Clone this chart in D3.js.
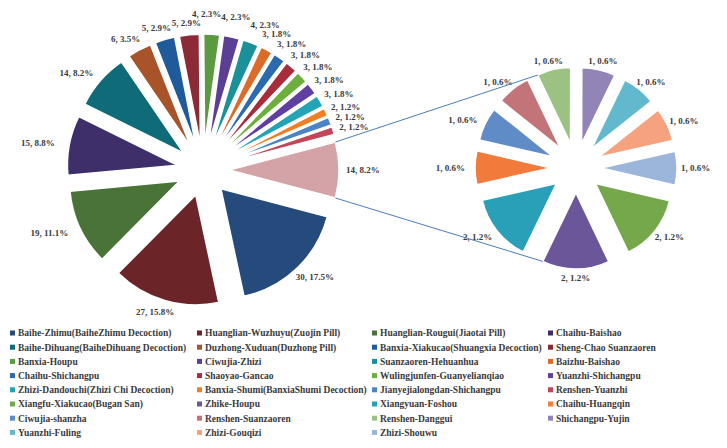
<!DOCTYPE html>
<html>
<head>
<meta charset="utf-8">
<script src="https://cdn.jsdelivr.net/npm/d3@7"></script>
<style>
  body { margin: 0; background: #fff; }
</style>
</head>
<body>
<div id="chart"></div>
<script>
// Herb pair counts - first 20 go in the main pie, the rest are grouped into the secondary pie
const pairNames = [
  'Baihe-Zhimu(BaiheZhimu Decoction)', 'Huanglian-Wuzhuyu(Zuojin Pill)', 'Huanglian-Rougui(Jiaotai Pill)', 'Chaihu-Baishao',
  'Baihe-Dihuang(BaiheDihuang Decoction)', 'Duzhong-Xuduan(Duzhong Pill)', 'Banxia-Xiakucao(Shuangxia Decoction)', 'Sheng-Chao Suanzaoren',
  'Banxia-Houpu', 'Ciwujia-Zhizi', 'Suanzaoren-Hehuanhua', 'Baizhu-Baishao',
  'Chaihu-Shichangpu', 'Shaoyao-Gancao', 'Wulingjunfen-Guanyelianqiao', 'Yuanzhi-Shichangpu',
  'Zhizi-Dandouchi(Zhizi Chi Decoction)', 'Banxia-Shumi(BanxiaShumi Decoction)', 'Jianyejialongdan-Shichangpu', 'Renshen-Yuanzhi',
  'Xiangfu-Xiakucao(Bugan San)', 'Zhike-Houpu', 'Xiangyuan-Foshou', 'Chaihu-Huangqin',
  'Ciwujia-shanzha', 'Renshen-Suanzaoren', 'Renshen-Danggui', 'Shichangpu-Yujin',
  'Yuanzhi-Fuling', 'Zhizi-Gouqizi', 'Zhizi-Shouwu'
];
const pairCounts = [
  30, 27, 19, 15, 14, 6, 5, 5, 4, 4, 4, 3, 3, 3, 3, 3, 3, 2, 2, 2,
  2, 2, 2, 1, 1, 1, 1, 1, 1, 1, 1
];
const mainCount = 20;

const pairColors = [
  '#254a7c', '#6b2427', '#4a7338', '#3e2f6b', '#0e6b77', '#a8532a', '#1f5b9a', '#8c2a35',
  '#5a9a40', '#5b3f94', '#1a9199', '#dc6a28', '#2c6aaf', '#a92c3a', '#6dae3c', '#5f3fa0',
  '#22a4b5', '#f07f22', '#4a84c4', '#c24558',
  '#75a84a', '#6a5699', '#2aa0b8', '#f27a3a', '#5f8cc6', '#c27478', '#9cc283', '#9284b6',
  '#62b9ce', '#f6a27e', '#9cb5da'
];
const otherColor = '#d4a3a7';

const width = 727, height = 448;
const total = d3.sum(pairCounts);
const rad = Math.PI / 180;
const fontFamily = '"Liberation Serif", "DejaVu Serif", serif';

const svg = d3.select('#chart').append('svg')
  .attr('width', width)
  .attr('height', height)
  .attr('font-family', fontFamily)
  .attr('font-weight', 'bold');

const items = pairNames.map((name, i) => ({ name, value: pairCounts[i], color: pairColors[i] }));
const mainItems = items.slice(0, mainCount);
const subItems = items.slice(mainCount);
const otherValue = d3.sum(subItems, d => d.value);
mainItems.push({ name: 'Other', value: otherValue, color: otherColor, other: true });

const label = d => `${d.value}, ${(d.value / total * 100).toFixed(1)}%`;

// draw an exploded pie, returns slice geometry
function drawPie(data, cx, cy, r, explode, start, labelR, leftExtra, topBoost) {
  const pie = d3.pie().sort(null).value(d => d.value)
    .startAngle(start).endAngle(start + 2 * Math.PI);
  const arcs = pie(data);
  const arc = d3.arc().innerRadius(0).outerRadius(r);
  const g = svg.append('g').attr('transform', `translate(${cx},${cy})`);

  arcs.forEach(a => {
    const mid = (a.startAngle + a.endAngle) / 2;
    a.tip = [explode * Math.sin(mid), -explode * Math.cos(mid)];
    a.mid = mid;
  });

  g.selectAll('path')
    .data(arcs)
    .enter()
    .append('path')
    .attr('d', arc)
    .attr('transform', d => `translate(${d.tip[0]},${d.tip[1]})`)
    .attr('fill', d => d.data.color)
    .attr('stroke', '#fff')
    .attr('stroke-width', 1.5);

  const txt = g.selectAll('text')
    .data(arcs)
    .enter()
    .append('text')
    .attr('text-anchor', 'middle')
    .attr('dy', '0.35em')
    .style('font-size', '9px')
    .style('fill', '#3a3a3a')
    .text(d => label(d.data));

  // label box just outside the slice, pushed out by half its size
  const boxes = [];
  txt.each(function(d) {
    const w = this.getComputedTextLength();
    const s = Math.sin(d.mid), c = Math.cos(d.mid);
    let x = labelR * s + w / 2 * s + (s < 0 ? leftExtra * s : 0);
    let y = -labelR * c - 5 * c;
    if (s >= 0 && c > 0) y -= topBoost * Math.pow(c, 4);
    boxes.push({ el: this, x, y, w, h: 9 });
  });

  // nudge crowded labels apart sideways
  for (let pass = 0; pass < 12; pass++) {
    for (let i = 1; i < boxes.length; i++) {
      const a = boxes[i - 1], b = boxes[i];
      const ox = (a.w + b.w) / 2 - Math.abs(a.x - b.x);
      const oy = (a.h + b.h) / 2 - Math.abs(a.y - b.y);
      if (ox > 0 && oy > 0 && a.y < 0 && b.y < 0) {
        const dir = b.x >= a.x ? 1 : -1;
        a.x -= dir * ox / 2;
        b.x += dir * ox / 2;
      }
    }
  }
  boxes.forEach(b => d3.select(b.el).attr('x', b.x).attr('y', b.y));

  const corner = (a, ang) => [cx + a.tip[0] + r * Math.sin(ang), cy + a.tip[1] - r * Math.cos(ang)];
  return { arcs, corner };
}

// main pie: "other" slice centred on the right
const mainStart = Math.PI / 2 + Math.PI * otherValue / total;
const main = drawPie(mainItems, 203, 170, 110, 26, mainStart, 143, 8, 9);

// secondary pie
const sub = drawPie(subItems, 576, 168, 76, 25, 103 * rad, 105, 6, 0);

// connector lines
const otherArc = main.arcs[main.arcs.length - 1];
const p1 = main.corner(otherArc, otherArc.startAngle);
const p2 = main.corner(otherArc, otherArc.endAngle);
const q1 = sub.corner(sub.arcs[6], sub.arcs[6].startAngle);
const q2 = sub.corner(sub.arcs[1], sub.arcs[1].endAngle);

svg.append('g')
  .selectAll('line')
  .data([[p1, q1], [p2, q2]])
  .enter()
  .append('line')
  .attr('x1', d => d[0][0]).attr('y1', d => d[0][1])
  .attr('x2', d => d[1][0]).attr('y2', d => d[1][1])
  .attr('stroke', '#4a7ebb')
  .attr('stroke-width', 1);

// legend, 4 columns filled row by row
const colX = [10, 197, 372, 548];
const rowY = 333, rowStep = 14.2;

const legend = svg.append('g').attr('class', 'legend');
const row = legend.selectAll('g')
  .data(items)
  .enter()
  .append('g')
  .attr('transform', (d, i) => `translate(${colX[i % 4]}, ${rowY + Math.floor(i / 4) * rowStep})`);

row.append('rect')
  .attr('x', 0)
  .attr('y', -2.5)
  .attr('width', 5)
  .attr('height', 5)
  .attr('fill', d => d.color);

row.append('text')
  .attr('x', 8)
  .attr('y', 0)
  .attr('dy', '0.35em')
  .style('font-size', '9.5px')
  .style('fill', '#3a3a3a')
  .text(d => d.name);
</script>
</body>
</html>
